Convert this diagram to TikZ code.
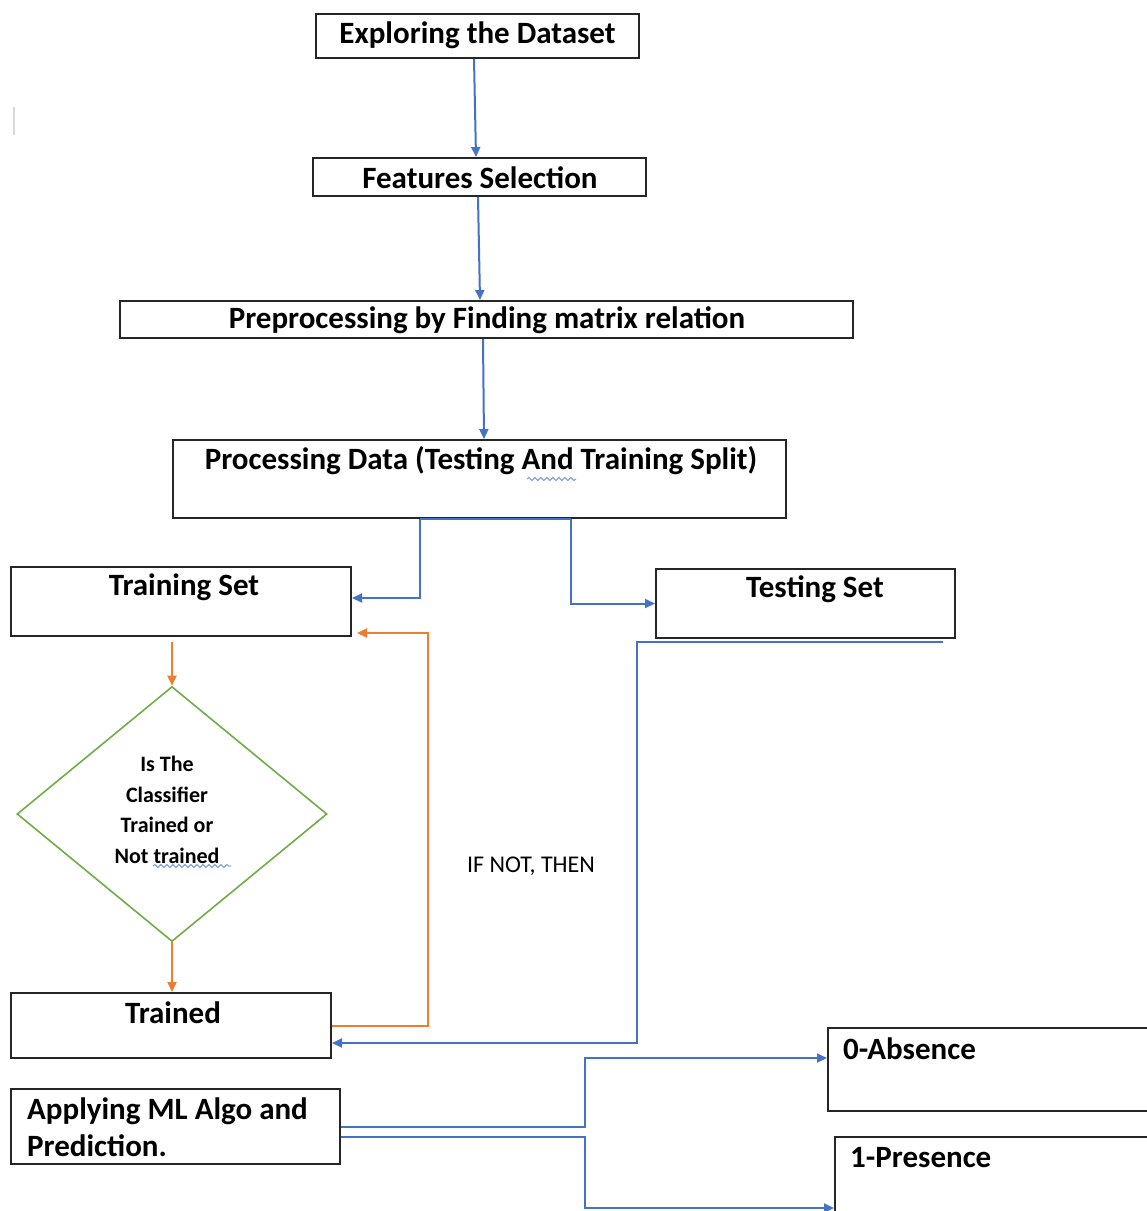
\documentclass[tikz,border=0pt]{standalone}
\usepackage{fontspec}
\setmainfont{Carlito}
\usetikzlibrary{shapes.geometric,arrows.meta,decorations.pathmorphing,calc}
\definecolor{oblue}{HTML}{4472C4}
\definecolor{oorange}{HTML}{ED7D31}
\definecolor{ogreen}{HTML}{70AD47}
\begin{document}
\begin{tikzpicture}[x=1pt,y=-1pt,
  box/.style={draw=black!85,line width=2pt,rectangle,inner sep=0pt},
  lbl/.style={font=\fontsize{31}{37}\selectfont\bfseries,inner sep=0pt},
  barrow/.style={draw=oblue,line width=2pt,-{Triangle[length=10pt,width=9pt]}},
  oarrow/.style={draw=oorange,line width=2pt,-{Triangle[length=10pt,width=9pt]}},
  bline/.style={draw=oblue,line width=2.4pt},
  squig/.style={draw=oblue!70,line width=1pt,decorate,decoration={snake,amplitude=1.5pt,segment length=6pt}}]
\useasboundingbox (0,0) rectangle (1147,1211);
\fill[white] (0,0) rectangle (1147,1211);
\draw[black!15,line width=1.5pt] (14,107) -- (14,135);
% boxes
\node[box,minimum width=323pt,minimum height=44pt] (explore) at (477.5,36) {};
\node[lbl] (explore-t) at (477.5,35) {Exploring the Dataset};
\node[box,minimum width=333pt,minimum height=38pt] (feat) at (479.5,177) {};
\node[lbl] (feat-t) at (480,178) {Features Selection};
\node[box,minimum width=733pt,minimum height=37pt] (pre) at (486.5,319.5) {};
\node[lbl] (pre-t) at (487,320) {Preprocessing by Finding matrix relation};
\node[box,minimum width=613pt,minimum height=78pt] (proc) at (479.5,479) {};
\node[lbl] (proc-t) at (481,461) {Processing Data (Testing And Training Split)};
\node[box,minimum width=340pt,minimum height=69pt] (train) at (181,601.5) {};
\node[lbl] (train-t) at (184,587) {Training Set};
\node[box,minimum width=299pt,minimum height=69pt] (test) at (805.5,603.5) {};
\node[lbl] (test-t) at (815,589) {Testing Set};
\node[draw=ogreen,line width=1.6pt,diamond,minimum width=310pt,minimum height=255pt,inner sep=0pt] (dia) at (172,814) {};
\node[font=\fontsize{22}{30.5}\selectfont\bfseries,align=center,inner sep=0pt] (dia-t) at (167,810) {Is The\\Classifier\\Trained or\\Not trained};
\node[box,minimum width=320pt,minimum height=65pt] (trained) at (171,1025.5) {};
\node[lbl] (trained-t) at (173,1013) {Trained};
\node[box,minimum width=329pt,minimum height=75pt] (apply) at (175.5,1126.5) {};
\node[lbl,anchor=west,align=left] (apply-t) at (27,1127.5) {Applying ML Algo and\\Prediction.};
\node[box,minimum width=330pt,minimum height=83pt] (absence) at (993,1069.5) {};
\node[lbl,anchor=west] (absence-t) at (843,1049) {0-Absence};
\node[box,minimum width=320pt,minimum height=80pt] (presence) at (995,1177) {};
\node[lbl,anchor=west] (presence-t) at (850,1158) {1-Presence};
\node[font=\fontsize{24}{28}\selectfont,inner sep=0pt] (ifnot) at (531,866) {IF NOT, THEN};
% squiggles
\draw[squig] (527,479) -- (576,479);
\draw[squig] (153,866) -- (231,866);
% connectors
\draw[barrow] ([xshift=-3.5pt]explore.south) -- ([xshift=-3.5pt]feat.north);
\draw[barrow] ([xshift=-1.5pt]feat.south) -- ([xshift=-6.5pt]pre.north);
\draw[barrow] ([xshift=-3.5pt]pre.south) -- ([xshift=4.5pt]proc.north);
\draw[bline] ([xshift=-59.5pt]proc.south) -- ([xshift=91.5pt]proc.south);
\draw[barrow] ([xshift=-59.5pt]proc.south) |- ([yshift=3.5pt]train.east);
\draw[barrow] ([xshift=91.5pt]proc.south) |- (test.west);
\draw[oarrow] ([xshift=-9pt,yshift=-5pt]train.south) -- (dia.north);
\draw[oarrow] (dia.south) -- ([xshift=1pt]trained.north);
\coordinate (o1) at (428,633);
\draw[oarrow] (trained.east) -| (o1) -- ([yshift=-31.5pt,xshift=5pt]train.east);
\coordinate (b1) at (943,642);
\coordinate (b2) at (637,1043);
\draw[barrow] (b1) -| (b2) -- ([yshift=-17.5pt]trained.east);
\coordinate (a1) at (585,1126.5);
\coordinate (a2) at (585,1137);
\draw[barrow] (apply.east) -- (a1) |- ([yshift=11.5pt]absence.west);
\draw[barrow] ([yshift=-10.5pt]apply.east) -- (a2) |- ([yshift=-31pt]presence.west);
\end{tikzpicture}
\end{document}
